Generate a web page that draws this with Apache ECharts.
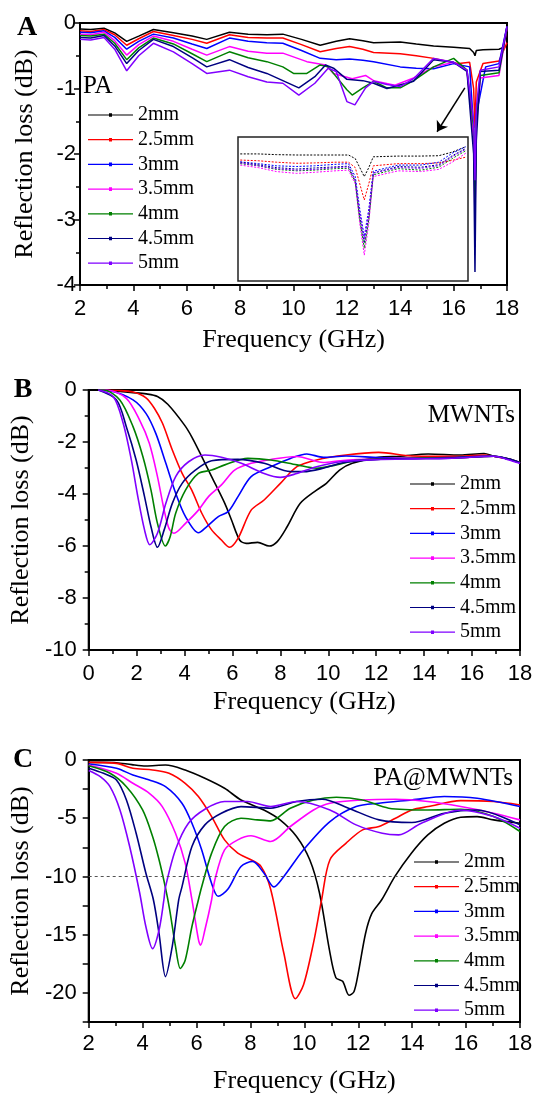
<!DOCTYPE html>
<html>
<head>
<meta charset="utf-8">
<script src="https://cdn.jsdelivr.net/npm/echarts@6/dist/echarts.min.js"></script>
<style>
  html, body { margin: 0; padding: 0; background: #fff; }
  #main { width: 536px; height: 1098px; }
</style>
</head>
<body>
<div id="main"></div>
<script>
// sample thickness, one curve per thickness in every panel
const thickness = ['2mm', '2.5mm', '3mm', '3.5mm', '4mm', '4.5mm', '5mm'];
const colors = ['#000000', '#ff0000', '#0000ff', '#ff00ff', '#008000', '#000080', '#8000ff'];

// panel A : PA  [frequency GHz, reflection loss dB]
const paA_2 = [[2,-0.09],[2.4,-0.1],[2.9,-0.08],[3.3,-0.15],[3.75,-0.28],[4.2,-0.2],[4.75,-0.1],[5.5,-0.15],[6.2,-0.2],[6.75,-0.25],[7.6,-0.14],[8.3,-0.17],[9,-0.18],[9.6,-0.17],[10.3,-0.25],[11,-0.34],[11.6,-0.28],[12.1,-0.24],[12.6,-0.27],[13,-0.3],[14,-0.29],[14.6,-0.32],[15.25,-0.35],[16,-0.37],[16.6,-0.39],[16.75,-0.45],[16.8,-0.5],[16.85,-0.42],[17.1,-0.41],[17.7,-0.4],[18,-0.35]];
const paA_25 = [[2,-0.12],[2.4,-0.13],[2.9,-0.1],[3.3,-0.18],[3.75,-0.34],[4.2,-0.24],[4.75,-0.13],[5.5,-0.19],[6.2,-0.25],[6.75,-0.31],[7.6,-0.18],[8.3,-0.22],[9,-0.23],[9.6,-0.23],[10.3,-0.33],[11,-0.44],[11.6,-0.39],[12.1,-0.36],[12.6,-0.4],[13,-0.45],[14,-0.47],[14.6,-0.5],[15.25,-0.54],[16.2,-0.62],[16.6,-0.6],[16.75,-1.0],[16.8,-1.6],[16.85,-0.9],[17.1,-0.62],[17.7,-0.58],[18,-0.3]];
const paA_3 = [[2,-0.14],[2.4,-0.15],[2.9,-0.12],[3.3,-0.22],[3.75,-0.4],[4.2,-0.28],[4.75,-0.17],[5.5,-0.23],[6.2,-0.32],[6.75,-0.39],[7.6,-0.23],[8.3,-0.28],[9,-0.3],[9.6,-0.31],[10.3,-0.42],[11,-0.54],[11.6,-0.56],[12.1,-0.55],[12.6,-0.57],[13,-0.59],[14,-0.67],[14.6,-0.69],[15.25,-0.7],[16,-0.62],[16.6,-0.67],[16.75,-1.6],[16.8,-2.7],[16.85,-1.4],[17.2,-0.67],[17.7,-0.62],[18,-0.05]];
const paA_35 = [[2,-0.17],[2.4,-0.18],[2.9,-0.14],[3.3,-0.27],[3.75,-0.49],[4.2,-0.33],[4.75,-0.2],[5.5,-0.28],[6.2,-0.4],[6.75,-0.49],[7.6,-0.36],[8.3,-0.43],[9,-0.46],[9.6,-0.46],[10.5,-0.59],[11.2,-0.64],[11.5,-0.77],[12.2,-0.85],[12.7,-0.8],[13,-0.88],[13.8,-0.95],[14.5,-0.84],[15.25,-0.67],[16,-0.6],[16.5,-0.72],[16.75,-1.8],[16.8,-3.0],[16.85,-1.6],[17,-0.84],[17.7,-0.8],[18,-0.08]];
const paA_4 = [[2,-0.19],[2.4,-0.2],[2.9,-0.17],[3.3,-0.31],[3.75,-0.56],[4.2,-0.38],[4.75,-0.23],[5.5,-0.32],[6.2,-0.47],[6.75,-0.59],[7.6,-0.44],[8.3,-0.53],[9,-0.59],[9.6,-0.67],[10,-0.77],[10.5,-0.77],[11,-0.64],[11.3,-0.67],[12,-1.02],[12.2,-1.1],[12.6,-0.99],[13,-0.89],[13.5,-0.99],[14,-0.99],[14.5,-0.88],[15.25,-0.67],[16,-0.54],[16.5,-0.72],[16.75,-1.6],[16.8,-2.8],[16.85,-1.5],[17,-0.8],[17.7,-0.76],[18,-0.05]];
const paA_45 = [[2,-0.22],[2.4,-0.23],[2.9,-0.19],[3.3,-0.35],[3.75,-0.62],[4.2,-0.42],[4.75,-0.25],[5.5,-0.36],[6.2,-0.53],[6.75,-0.67],[7.6,-0.56],[8.3,-0.68],[9,-0.77],[9.6,-0.88],[10.2,-0.99],[10.8,-0.82],[11.2,-0.64],[11.5,-0.69],[12,-0.86],[12.6,-0.88],[13,-0.92],[13.5,-1.0],[14.5,-0.89],[15.25,-0.56],[16,-0.6],[16.5,-0.74],[16.75,-2.0],[16.8,-3.8],[16.85,-1.8],[17,-0.74],[17.7,-0.72],[18,-0.05]];
const paA_5 = [[2,-0.25],[2.4,-0.26],[2.9,-0.22],[3.3,-0.4],[3.75,-0.73],[4.2,-0.5],[4.75,-0.31],[5.5,-0.44],[6.2,-0.62],[6.75,-0.77],[7.6,-0.72],[8.3,-0.82],[9,-0.9],[9.6,-0.92],[10.2,-1.1],[10.8,-0.92],[11.3,-0.69],[11.6,-0.74],[12,-1.2],[12.3,-1.25],[12.7,-0.99],[13,-0.89],[13.5,-0.94],[14,-0.97],[14.5,-0.85],[15.25,-0.54],[16,-0.6],[16.5,-0.72],[16.75,-1.5],[16.8,-2.4],[16.85,-1.3],[17,-0.72],[17.7,-0.67],[18,-0.05]];

// inset of panel A (magnified view around the sharp dip, own arbitrary scale)
const inset_2 = [[0,-0.47],[8,-0.47],[16,-0.49],[25,-0.5],[33,-0.5],[42,-0.5],[48,-0.5],[51,-0.6],[53,-0.85],[55,-1.1],[57,-0.85],[59,-0.55],[70,-0.53],[80,-0.53],[88,-0.52],[94,-0.42],[100,-0.27]];
const inset_25 = [[0,-0.64],[8,-0.66],[16,-0.7],[25,-0.73],[33,-0.72],[42,-0.7],[48,-0.7],[51,-0.85],[53,-1.3],[55,-1.75],[57,-1.3],[59,-0.8],[70,-0.74],[80,-0.74],[88,-0.72],[94,-0.65],[100,-0.56]];
const inset_3 = [[0,-0.69],[8,-0.74],[16,-0.8],[25,-0.82],[33,-0.8],[42,-0.76],[48,-0.74],[51,-1.1],[53,-2.0],[55,-2.77],[57,-2.0],[59,-0.95],[70,-0.78],[80,-0.78],[88,-0.7],[94,-0.45],[100,-0.27]];
const inset_35 = [[0,-0.78],[8,-0.85],[16,-0.96],[25,-1.01],[33,-0.98],[42,-0.94],[48,-0.92],[51,-1.3],[53,-2.4],[55,-3.28],[57,-2.4],[59,-1.1],[70,-0.94],[80,-0.96],[88,-0.9],[94,-0.7],[100,-0.45]];
const inset_4 = [[0,-0.74],[8,-0.8],[16,-0.9],[25,-0.94],[33,-0.92],[42,-0.88],[48,-0.87],[51,-1.25],[53,-2.3],[55,-3.09],[57,-2.3],[59,-1.05],[70,-0.88],[80,-0.92],[88,-0.84],[94,-0.6],[100,-0.38]];
const inset_45 = [[0,-0.7],[8,-0.77],[16,-0.85],[25,-0.89],[33,-0.86],[42,-0.83],[48,-0.81],[51,-1.2],[53,-2.2],[55,-2.95],[57,-2.2],[59,-1.0],[70,-0.82],[80,-0.84],[88,-0.77],[94,-0.52],[100,-0.32]];
const inset_5 = [[0,-0.72],[8,-0.8],[16,-0.88],[25,-0.92],[33,-0.9],[42,-0.85],[48,-0.83],[51,-1.2],[53,-2.1],[55,-2.86],[57,-2.1],[59,-1.0],[70,-0.85],[80,-0.87],[88,-0.8],[94,-0.55],[100,-0.34]];

// panel B : MWNTs
const mwB_2 = [[0.4,0],[1.2,-0.05],[1.85,-0.1],[2.4,-0.15],[2.87,-0.25],[3.3,-0.55],[4.0,-1.35],[4.3,-1.8],[4.72,-2.56],[5.13,-3.33],[5.68,-4.36],[5.96,-5.0],[6.3,-5.77],[6.57,-5.9],[7.05,-5.86],[7.53,-6.0],[7.87,-5.83],[8.28,-5.26],[8.83,-4.36],[9.51,-3.85],[9.92,-3.59],[10.47,-3.08],[11.0,-2.82],[12.1,-2.59],[13,-2.55],[14.17,-2.46],[15.5,-2.5],[16.5,-2.44],[16.9,-2.54],[17.5,-2.65],[18,-2.79]];
const mwB_25 = [[0.4,0],[1.2,-0.02],[1.85,-0.08],[2.39,-0.3],[2.74,-0.7],[3.08,-1.28],[3.49,-2.31],[3.9,-3.21],[4.3,-3.85],[4.72,-4.74],[5.13,-5.38],[5.54,-5.77],[5.88,-6.05],[6.23,-5.71],[6.78,-4.62],[7.32,-4.23],[8.0,-3.59],[8.69,-2.95],[9.51,-2.69],[10.74,-2.5],[12.1,-2.4],[13.48,-2.54],[14.5,-2.55],[15.5,-2.55],[16.5,-2.5],[16.9,-2.55],[17.5,-2.65],[18,-2.8]];
const mwB_3 = [[0.4,0],[0.89,-0.03],[1.85,-0.38],[2.39,-0.9],[2.8,-1.67],[3.22,-2.82],[3.63,-3.97],[4.04,-4.87],[4.58,-5.49],[4.92,-5.26],[5.41,-4.87],[5.82,-4.68],[6.23,-4.1],[6.78,-3.33],[7.6,-2.95],[8.42,-2.63],[9.1,-2.46],[9.79,-2.59],[10.74,-2.54],[12.1,-2.6],[13.5,-2.62],[15,-2.6],[16.5,-2.55],[16.9,-2.55],[17.5,-2.65],[18,-2.8]];
const mwB_35 = [[0.4,0],[0.75,0],[1.57,-0.32],[2.12,-1.15],[2.53,-2.05],[2.87,-3.33],[3.15,-4.62],[3.35,-5.32],[3.56,-5.51],[4.04,-5.13],[4.58,-4.62],[5.0,-4.1],[5.54,-3.65],[6.09,-3.08],[6.78,-2.82],[7.6,-2.67],[8.69,-2.56],[9.79,-2.79],[10.5,-2.72],[12,-2.65],[13.5,-2.62],[15,-2.62],[16.5,-2.56],[16.9,-2.55],[17.5,-2.65],[18,-2.8]];
const mwB_4 = [[0.4,0],[0.62,0],[1.3,-0.38],[1.85,-1.41],[2.26,-2.56],[2.6,-3.85],[2.87,-5.13],[3.2,-6.0],[3.4,-5.64],[3.63,-4.74],[4.04,-3.85],[4.58,-3.21],[5.13,-3.08],[5.68,-2.88],[6.64,-2.63],[7.6,-2.69],[8.69,-2.88],[9.51,-3.01],[10.33,-2.88],[11.2,-2.7],[12.5,-2.65],[14,-2.62],[15.5,-2.6],[16.5,-2.56],[16.9,-2.55],[17.5,-2.65],[18,-2.8]];
const mwB_45 = [[0.4,0],[1.16,-0.38],[1.57,-1.41],[1.98,-2.69],[2.33,-4.1],[2.6,-5.26],[2.87,-6.05],[3.15,-5.38],[3.49,-4.36],[3.9,-3.59],[4.45,-3.08],[5.13,-2.72],[6.23,-2.67],[7.32,-2.82],[8.42,-3.14],[8.97,-3.14],[9.79,-3.01],[10.6,-2.8],[12,-2.67],[13.5,-2.64],[15,-2.62],[16.5,-2.56],[16.9,-2.55],[17.5,-2.65],[18,-2.8]];
const mwB_5 = [[0.4,0],[1.03,-0.26],[1.44,-1.28],[1.78,-2.69],[2.05,-4.1],[2.33,-5.38],[2.55,-5.95],[2.87,-5.51],[3.22,-4.36],[3.63,-3.33],[4.17,-2.76],[4.85,-2.5],[5.54,-2.59],[6.37,-2.82],[7.32,-3.21],[8.0,-3.36],[8.69,-3.21],[9.51,-2.95],[10.6,-2.75],[12,-2.68],[13.5,-2.65],[15,-2.63],[16.5,-2.56],[16.9,-2.55],[17.5,-2.68],[18,-2.82]];

// panel C : PA@MWNTs
const pmC_2 = [[2,-0.2],[2.5,-0.2],[3.03,-0.23],[3.6,-0.4],[4.12,-0.51],[4.85,-0.43],[5.58,-0.86],[6.31,-1.57],[7.04,-2.43],[7.65,-3.43],[8.5,-4.29],[9.1,-5.14],[9.71,-6.57],[10.2,-8.57],[10.56,-11.4],[10.93,-16.3],[11.17,-18.7],[11.42,-19.0],[11.66,-20.2],[11.84,-19.9],[12.0,-18.3],[12.27,-14.9],[12.5,-13.2],[12.87,-12.0],[13.36,-10.0],[13.97,-8.0],[14.58,-6.43],[15.19,-5.43],[15.8,-4.91],[16.41,-4.86],[17.02,-5.14],[18,-5.43]];
const pmC_25 = [[2,-0.2],[3.03,-0.29],[3.64,-0.71],[4.37,-0.86],[4.98,-1.14],[5.58,-2.0],[6.07,-3.14],[6.56,-4.86],[7.04,-6.86],[7.53,-8.0],[8.02,-8.57],[8.39,-9.14],[8.75,-11.1],[9.24,-16.6],[9.67,-20.5],[9.97,-19.3],[10.34,-15.7],[10.64,-12.0],[10.95,-8.57],[11.55,-7.14],[12.16,-6.0],[12.77,-5.71],[13.38,-5.0],[13.99,-4.29],[14.6,-4.0],[15.8,-3.49],[17.02,-3.57],[18,-3.86]];
const pmC_3 = [[2,-0.35],[3.03,-0.71],[3.64,-1.29],[4.25,-1.71],[4.85,-2.29],[5.46,-3.71],[5.83,-5.43],[6.19,-7.71],[6.56,-10.6],[6.8,-11.7],[7.16,-11.1],[7.65,-9.14],[8.08,-8.71],[8.5,-9.71],[8.87,-10.9],[9.24,-10.0],[9.97,-7.71],[10.95,-5.29],[11.92,-4.0],[12.77,-3.71],[13.99,-3.43],[15.19,-3.14],[16.41,-3.29],[18,-4.0]];
const pmC_35 = [[2,-0.43],[3.03,-1.14],[3.64,-2.0],[4.25,-2.86],[4.73,-4.0],[5.22,-6.29],[5.58,-8.86],[5.83,-12.0],[6.07,-15.4],[6.15,-15.9],[6.31,-14.6],[6.56,-12.0],[6.68,-10.3],[7.04,-7.71],[7.53,-6.86],[8.02,-6.51],[8.75,-7.0],[9.48,-5.71],[10.34,-4.29],[10.95,-3.71],[12.16,-3.43],[13.38,-3.37],[14.58,-3.57],[15.8,-4.0],[17.02,-4.57],[18,-5.14]];
const pmC_4 = [[2,-0.5],[2.79,-1.14],[3.4,-2.29],[4.0,-4.29],[4.37,-6.57],[4.61,-8.57],[4.85,-11.0],[5.0,-12.8],[5.22,-16.0],[5.4,-17.9],[5.58,-17.2],[5.83,-14.3],[6.07,-12.0],[6.19,-10.9],[6.56,-8.0],[7.04,-5.71],[7.65,-5.0],[8.26,-5.14],[8.75,-5.23],[9.48,-4.14],[10.34,-3.43],[11.19,-3.2],[12.16,-3.43],[13.13,-4.14],[14.58,-4.29],[15.8,-4.23],[17.02,-4.86],[18,-6.14]];
const pmC_45 = [[2,-0.7],[2.55,-1.14],[3.03,-1.71],[3.4,-3.43],[3.76,-6.29],[4.12,-9.71],[4.4,-12.0],[4.61,-14.9],[4.85,-18.6],[5.1,-16.0],[5.34,-12.0],[5.46,-10.9],[5.83,-7.43],[6.31,-5.57],[6.92,-4.57],[7.65,-4.0],[8.75,-4.14],[9.71,-3.57],[10.66,-3.37],[11.64,-4.14],[12.77,-5.14],[13.99,-5.37],[15.19,-4.57],[16.41,-4.29],[18,-5.57]];
const pmC_5 = [[2,-0.9],[2.43,-1.43],[2.79,-2.29],[3.16,-4.29],[3.52,-7.43],[3.89,-11.4],[4.12,-14.3],[4.37,-16.2],[4.61,-14.6],[4.79,-12.0],[4.85,-10.9],[5.22,-7.71],[5.7,-5.43],[6.31,-4.23],[7.04,-3.57],[7.89,-3.57],[8.75,-4.0],[9.71,-3.57],[10.95,-4.29],[11.92,-5.57],[12.89,-6.29],[13.5,-6.43],[14.34,-5.43],[15.8,-4.29],[17.02,-4.86],[18,-5.86]];

const panelA = [paA_2, paA_25, paA_3, paA_35, paA_4, paA_45, paA_5];
const panelInset = [inset_2, inset_25, inset_3, inset_35, inset_4, inset_45, inset_5];
const panelB = [mwB_2, mwB_25, mwB_3, mwB_35, mwB_4, mwB_45, mwB_5];
const panelC = [pmC_2, pmC_25, pmC_3, pmC_35, pmC_4, pmC_45, pmC_5];

const serif = '"Liberation Serif", "Times New Roman", serif';
const sans = '"Liberation Sans", Arial, sans-serif';

function xAxisFor(grid, min, max, labelMargin, nameGap) {
  return {
    gridIndex: grid, type: 'value', min: min, max: max, interval: 2,
    name: 'Frequency (GHz)', nameLocation: 'middle', nameGap: nameGap,
    nameTextStyle: { fontFamily: serif, fontSize: 26, color: '#000' },
    axisLine: { onZero: false, lineStyle: { color: '#000', width: 2 } },
    axisTick: { inside: false, length: 6, lineStyle: { width: 1.5, color: '#000' } },
    minorTick: { show: true, splitNumber: 2, length: 4, lineStyle: { width: 1.5, color: '#000' } },
    axisLabel: { margin: labelMargin, fontFamily: sans, fontSize: 22, color: '#000' },
    splitLine: { show: false }
  };
}

function yAxisFor(grid, min, max, interval, labelMargin, nameGap, minor, formatter) {
  return {
    gridIndex: grid, type: 'value', min: min, max: max, interval: interval,
    name: 'Reflection loss (dB)', nameLocation: 'middle', nameGap: nameGap,
    nameTextStyle: { fontFamily: serif, fontSize: 26, color: '#000' },
    axisLine: { onZero: false, lineStyle: { color: '#000', width: 2 } },
    axisTick: { inside: false, length: 6, lineStyle: { width: 1.5, color: '#000' } },
    minorTick: { show: minor, splitNumber: 2, length: 4, lineStyle: { width: 1.5, color: '#000' } },
    axisLabel: { margin: labelMargin, fontFamily: sans, fontSize: 22, color: '#000', formatter: formatter },
    splitLine: { show: false }
  };
}

function curve(name, data, axis, color, width, smooth) {
  return {
    name: name, type: 'line', data: data,
    xAxisIndex: axis, yAxisIndex: axis,
    symbol: 'circle', symbolSize: 3, showSymbol: false,
    smooth: smooth,
    lineStyle: { color: color, width: width },
    itemStyle: { color: color },
    animation: false, silent: true
  };
}

const series = [];
panelA.forEach((d, i) => series.push(curve(thickness[i], d, 0, colors[i], 1.5, false)));
panelB.forEach((d, i) => series.push(curve(thickness[i], d, 1, colors[i], 1.6, 0.3)));
panelC.forEach((d, i) => series.push(curve(thickness[i], d, 2, colors[i], 1.6, 0.3)));
panelInset.forEach((d, i) => {
  const s = curve(thickness[i], d, 3, colors[i], 1, false);
  s.lineStyle.type = [2, 1.5];
  s.z = 6;
  series.push(s);
});

// arrow from the spike region down to the inset (panel A)
series[6].markLine = {
  silent: true, symbol: ['none', 'arrow'], symbolSize: 10,
  lineStyle: { color: '#000', width: 1.5, type: 'solid' },
  label: { show: false },
  data: [[{ coord: [16.42, -0.99] }, { coord: [15.38, -1.66] }]]
};
// -10 dB reference line (panel C)
series[14].markLine = {
  silent: true, symbol: ['none', 'none'],
  lineStyle: { color: '#555', width: 1, type: [3, 3] },
  label: { show: false },
  data: [{ yAxis: -10 }]
};

// legend icon: a line with a small dot in its middle
const legendIcon = 'path://M0,1.4H45V2.6H0Z M21,0.2H24V3.8H21Z';

function legendAt(left, top) {
  return {
    data: thickness, left: left, top: top, orient: 'vertical',
    icon: legendIcon, itemWidth: 45, itemHeight: 4, itemGap: 4.7, padding: 0,
    selectedMode: false,
    textStyle: { fontFamily: serif, fontSize: 20, color: '#000' }
  };
}

const chart = echarts.init(document.getElementById('main'));
const option = {
  backgroundColor: '#fff',
  animation: false,
  grid: [
    { left: 80, top: 23, width: 427, height: 262, show: true, borderColor: '#000', borderWidth: 2 },
    { left: 82, top: 390, width: 438, height: 260, show: true, borderColor: '#000', borderWidth: 2 },
    { left: 82, top: 760, width: 438, height: 262, show: true, borderColor: '#000', borderWidth: 2 },
    { left: 238, top: 137, width: 230, height: 144, show: true, borderColor: '#222', borderWidth: 1.5, backgroundColor: '#fff' }
  ],
  xAxis: [
    xAxisFor(0, 2, 18, 13, 42),
    xAxisFor(1, 0, 18, 13, 39),
    xAxisFor(2, 2, 18, 11, 46),
    { gridIndex: 3, type: 'value', min: -1, max: 101, show: false }
  ],
  yAxis: [
    yAxisFor(0, -4, 0, 1, 4, 42, true),
    yAxisFor(1, -10, 0, 2, 12, 42, true),
    yAxisFor(2, -22.5, 0, 2.5, 12, 42, false, v => (v % 5 === 0 ? String(v) : '')),
    { gridIndex: 3, type: 'value', min: -4, max: 0, show: false }
  ],
  legend: [legendAt(88, 105), legendAt(410, 474), legendAt(414, 852)],
  graphic: [
    { type: 'text', x: 27, y: 28, style: { text: 'A', font: 'bold 28px ' + serif, fill: '#000', align: 'center', verticalAlign: 'middle' } },
    { type: 'text', x: 23, y: 390, style: { text: 'B', font: 'bold 28px ' + serif, fill: '#000', align: 'center', verticalAlign: 'middle' } },
    { type: 'text', x: 23, y: 760, style: { text: 'C', font: 'bold 28px ' + serif, fill: '#000', align: 'center', verticalAlign: 'middle' } },
    { type: 'text', x: 83, y: 86, style: { text: 'PA', font: '25px ' + serif, fill: '#000', align: 'left', verticalAlign: 'middle' } },
    { type: 'text', x: 515, y: 415, style: { text: 'MWNTs', font: '25px ' + serif, fill: '#000', align: 'right', verticalAlign: 'middle' } },
    { type: 'text', x: 513, y: 778, style: { text: 'PA@MWNTs', font: '25px ' + serif, fill: '#000', align: 'right', verticalAlign: 'middle' } }
  ],
  series: series
};
chart.setOption(option);
</script>
</body>
</html>
